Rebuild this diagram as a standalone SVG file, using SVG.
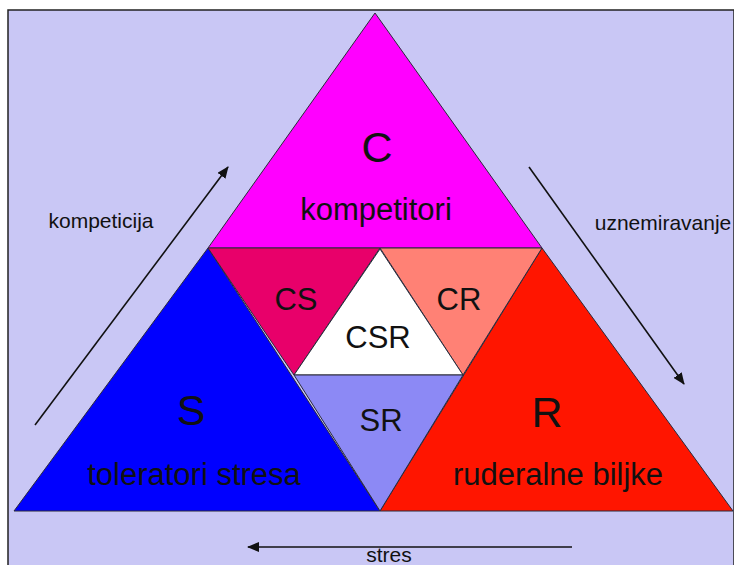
<svg xmlns="http://www.w3.org/2000/svg" width="734" height="565" viewBox="0 0 734 565">
<defs>
<style>
.t{font-family:"Liberation Sans",Arial,sans-serif;fill:#111;text-anchor:middle}
.big{font-size:43px}
.mid{font-size:31px}
.sm{font-size:21px}
.tri{stroke:#2a2a3a;stroke-width:1;stroke-linejoin:round}
.arr{stroke:#111;stroke-width:1.6;fill:none;marker-end:url(#ah)}
</style>
<marker id="ah" viewBox="0 0 12 10" refX="11" refY="5" markerWidth="12" markerHeight="10" markerUnits="userSpaceOnUse" orient="auto">
<path d="M0,0 L12,5 L0,10 Z" fill="#111"/>
</marker>
</defs>
<rect x="0" y="0" width="734" height="565" fill="#ffffff"/>
<rect x="8" y="10" width="726" height="560" fill="#C9C7F5" stroke="#222" stroke-width="1.5"/>
<g id="C">
<polygon class="tri" points="375,13 542,248 208,248" fill="#FF00FF"/>
<text class="t big" x="377" y="162">C</text>
<text class="t mid" x="376" y="220">kompetitori</text>
</g>
<g id="S">
<polygon class="tri" points="208,248 380,511 14,511" fill="#0000FF"/>
<text class="t big" x="191" y="425">S</text>
<text class="t mid" x="194" y="485">toleratori stresa</text>
</g>
<g id="R">
<polygon class="tri" points="542,248 733,511 380,511" fill="#FF1500"/>
<text class="t big" x="547" y="427">R</text>
<text class="t mid" x="558" y="485">ruderalne biljke</text>
</g>
<g id="CS">
<polygon class="tri" points="208,248 380,248 294,375" fill="#E8006A"/>
<text class="t mid" x="296" y="310">CS</text>
</g>
<g id="CR">
<polygon class="tri" points="380,248 542,248 463,375" fill="#FF8175"/>
<text class="t mid" x="459" y="310">CR</text>
</g>
<g id="CSR">
<polygon class="tri" points="380,249 463,375 294,375" fill="#FFFFFF"/>
<text class="t mid" x="378" y="348">CSR</text>
</g>
<g id="SR">
<polygon class="tri" points="294,375 463,375 380,511" fill="#8C89F5"/>
<text class="t mid" x="381" y="431">SR</text>
</g>
<g id="connectors">
<line class="arr" x1="35" y1="425" x2="228" y2="167"/>
<line class="arr" x1="529" y1="167" x2="684" y2="384"/>
<line class="arr" x1="572" y1="547" x2="248" y2="547"/>
</g>
<g id="labels">
<text class="t sm" x="101" y="228">kompeticija</text>
<text class="t sm" x="663" y="230">uznemiravanje</text>
<text class="t sm" x="389" y="562">stres</text>
</g>
</svg>
